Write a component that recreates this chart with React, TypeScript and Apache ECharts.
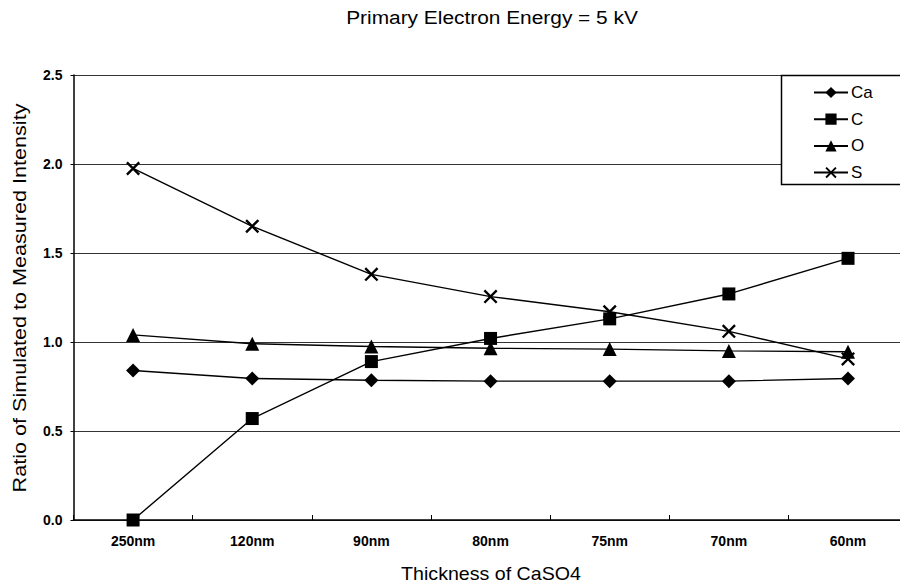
import React, { useEffect, useRef } from "react";
import * as echarts from "echarts";

const categories = ["250nm", "120nm", "90nm", "80nm", "75nm", "70nm", "60nm"];
const caValues = [0.84, 0.795, 0.785, 0.78, 0.78, 0.78, 0.795];
const cValues = [0.0, 0.57, 0.89, 1.02, 1.13, 1.27, 1.47];
const oValues = [1.04, 0.99, 0.975, 0.965, 0.96, 0.95, 0.945];
const sValues = [1.975, 1.65, 1.38, 1.255, 1.17, 1.06, 0.905];
const yTicks = [0, 0.5, 1.0, 1.5, 2.0, 2.5];
const titleText = "Primary Electron Energy = 5 kV";
const xName = "Thickness of CaSO4";
const yName = "Ratio of Simulated to Measured Intensity";

const X_PATH = "path://M0,1.2 L1.2,0 L10,8.8 L8.8,10 Z M8.8,0 L10,1.2 L1.2,10 L0,8.8 Z";

export default function App() {
  const ref = useRef<HTMLDivElement>(null);
  useEffect(() => {
    if (!ref.current) return;
    const chart = echarts.init(ref.current, null, { renderer: "svg" });
    const font = "Arial, 'Liberation Sans', sans-serif";
    const mk = (name: string, data: number[], symbol: string, size: number) => ({
      name,
      type: "line",
      data,
      symbol,
      symbolSize: size,
      showAllSymbol: true,
      lineStyle: { color: "#000", width: 1.4 },
      itemStyle: { color: "#000" },
      emphasis: { disabled: true },
      z: 3,
    });
    chart.setOption({
      animation: false,
      textStyle: { fontFamily: font },
      grid: { left: 73.5, right: -7.6, top: 75, bottom: 64, outerBoundsMode: "none", containLabel: false },
      legend: {
        orient: "vertical",
        left: 813,
        top: 84,
        padding: 0,
        itemGap: 9.7,
        itemWidth: 34,
        itemHeight: 14,
        z: 60,
        textStyle: { color: "#000", fontSize: 17, fontFamily: font, padding: [0, 0, 0, -2] },
        data: ["Ca", "C", "O", "S"],
      },
      graphic: [
        {
          type: "rect",
          shape: { x: 781.5, y: 75.5, width: 140, height: 109 },
          style: { fill: "#fff", stroke: "#000", lineWidth: 1.5 },
          z: 10,
        },
        {
          type: "text",
          x: 492,
          y: 18,
          scaleX: 1.16,
          style: {
            text: titleText,
            fill: "#000",
            font: `18px ${font}`,
            textAlign: "center",
            textVerticalAlign: "middle",
          },
        },
        {
          type: "text",
          x: 491,
          y: 574,
          scaleX: 1.09,
          style: {
            text: xName,
            fill: "#000",
            font: `18px ${font}`,
            textAlign: "center",
            textVerticalAlign: "middle",
          },
        },
        {
          type: "text",
          x: 20,
          y: 298,
          rotation: Math.PI / 2,
          scaleX: 1.2,
          style: {
            text: yName,
            fill: "#000",
            font: `18px ${font}`,
            textAlign: "center",
            textVerticalAlign: "middle",
          },
        },
      ],
      xAxis: {
        type: "category",
        data: categories,
        boundaryGap: true,
        axisLine: { lineStyle: { color: "#000", width: 1.5 } },
        axisTick: { show: true, inside: true, length: 5, alignWithLabel: false, lineStyle: { color: "#000" } },
        axisLabel: { color: "#000", fontWeight: "bold", fontSize: 14, margin: 14, fontFamily: font },
        splitLine: { show: false },
      },
      yAxis: {
        type: "value",
        min: 0,
        max: 2.5,
        interval: 0.5,
        axisLine: { show: true, lineStyle: { color: "#000", width: 1.5 } },
        axisTick: { show: true, length: 3, lineStyle: { color: "#000" } },
        axisLabel: {
          color: "#000",
          fontWeight: "bold",
          fontSize: 14,
          margin: 11,
          fontFamily: font,
          formatter: (v: number) => (yTicks.includes(v) ? v.toFixed(1) : ""),
        },
        splitLine: { show: true, lineStyle: { color: "#333", width: 1.2 } },
      },
      series: [
        mk("Ca", caValues, "diamond", 14),
        mk("C", cValues, "rect", 13),
        mk("O", oValues, "triangle", 14),
        mk("S", sValues, X_PATH, 14),
      ],
    });
    return () => chart.dispose();
  }, []);
  return (
    <div
      ref={ref}
      style={{ position: "fixed", left: 0, top: 0, width: 900, height: 584, background: "#fff" }}
    />
  );
}
